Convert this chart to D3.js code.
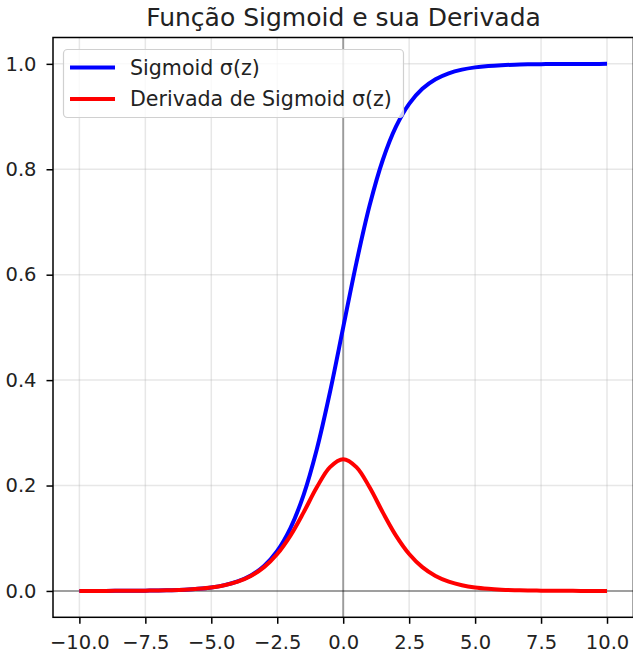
<!DOCTYPE html>
<html>
<head>
<meta charset="utf-8">
<script src="https://cdn.jsdelivr.net/npm/d3@7"></script>
<style>
  body { margin: 0; background: #fff; }
  svg { display: block; font-family: "DejaVu Sans", sans-serif; }
</style>
</head>
<body>
<svg id="chart" width="633" height="657"></svg>
<script>
// Data
const zValues = [-10, -9.5, -9, -8.5, -8, -7.5, -7, -6.5, -6, -5.5, -5, -4.5, -4, -3.5, -3, -2.5, -2, -1.5, -1, -0.5,
  0, 0.5, 1, 1.5, 2, 2.5, 3, 3.5, 4, 4.5, 5, 5.5, 6, 6.5, 7, 7.5, 8, 8.5, 9, 9.5, 10];
const sigmoidValues = [0.0000, 0.0001, 0.0001, 0.0002, 0.0003, 0.0006, 0.0009, 0.0015, 0.0025, 0.0041, 0.0067, 0.0110,
  0.0180, 0.0293, 0.0474, 0.0759, 0.1192, 0.1824, 0.2689, 0.3775, 0.5000, 0.6225, 0.7311, 0.8176, 0.8808, 0.9241,
  0.9526, 0.9707, 0.9820, 0.9890, 0.9933, 0.9959, 0.9975, 0.9985, 0.9991, 0.9994, 0.9997, 0.9998, 0.9999, 0.9999, 1.0000];
const derivativeValues = [0.0000, 0.0001, 0.0001, 0.0002, 0.0003, 0.0006, 0.0009, 0.0015, 0.0025, 0.0041, 0.0066, 0.0109,
  0.0177, 0.0285, 0.0452, 0.0701, 0.1050, 0.1491, 0.1966, 0.2350, 0.2500, 0.2350, 0.1966, 0.1491, 0.1050, 0.0701,
  0.0452, 0.0285, 0.0177, 0.0109, 0.0066, 0.0041, 0.0025, 0.0015, 0.0009, 0.0006, 0.0003, 0.0002, 0.0001, 0.0001, 0.0000];
const xTicks = [-10, -7.5, -5, -2.5, 0, 2.5, 5, 7.5, 10];
const yTicks = [0, 0.2, 0.4, 0.6, 0.8, 1.0];
const seriesNames = ["Sigmoid σ(z)", "Derivada de Sigmoid σ(z)"];
const seriesColors = ["#0000ff", "#ff0000"];
const titleText = "Função Sigmoid e sua Derivada";

const svg = d3.select("#chart");
const L = 53, R = 633.4, T = 37.5, B = 617.3;
const x = d3.scaleLinear().domain([-11, 11]).range([L, R]);
const y = d3.scaleLinear().domain([-0.05, 1.05]).range([B, T]);
const fmt = d => d3.format(".1f")(d).replace("-", "\u2212");

// grid
const g = svg.append("g");
g.selectAll(".gx").data(xTicks).join("line")
  .attr("x1", d => x(d)).attr("x2", d => x(d)).attr("y1", T).attr("y2", B)
  .attr("stroke", "#b0b0b0").attr("stroke-opacity", 0.3).attr("stroke-width", 1.5);
g.selectAll(".gy").data(yTicks).join("line")
  .attr("x1", L).attr("x2", R).attr("y1", d => y(d)).attr("y2", d => y(d))
  .attr("stroke", "#b0b0b0").attr("stroke-opacity", 0.3).attr("stroke-width", 1.5);

// zero lines
svg.append("line").attr("x1", L).attr("x2", R).attr("y1", y(0)).attr("y2", y(0))
  .attr("stroke", "#000").attr("stroke-opacity", 0.33).attr("stroke-width", 2);
svg.append("line").attr("x1", x(0)).attr("x2", x(0)).attr("y1", T).attr("y2", B)
  .attr("stroke", "#000").attr("stroke-opacity", 0.33).attr("stroke-width", 2);

// lines
const series = [sigmoidValues, derivativeValues];
const line = d3.line().x((d, i) => x(zValues[i])).y(d => y(d)).curve(d3.curveCatmullRom.alpha(0.5));
series.forEach((vals, k) => {
  svg.append("path").datum(vals).attr("d", line)
    .attr("fill", "none").attr("stroke", seriesColors[k]).attr("stroke-width", 4)
    .attr("stroke-linejoin", "round").attr("stroke-linecap", "butt");
});

// axes
const xAxis = d3.axisBottom(x).tickValues(xTicks).tickFormat(fmt).tickSize(6.5).tickPadding(11.5);
const yAxis = d3.axisLeft(y).tickValues(yTicks).tickFormat(fmt).tickSize(6.5).tickPadding(10);
const gx = svg.append("g").attr("transform", `translate(0,${B})`).call(xAxis);
const gy = svg.append("g").attr("transform", `translate(${L},0)`).call(yAxis);
[gx, gy].forEach(a => {
  a.select(".domain").remove();
  a.selectAll(".tick line").attr("stroke", "#000").attr("stroke-width", 1.5);
  a.selectAll(".tick text").attr("fill", "#222").style("font-size", "19.5px").style("font-family", "DejaVu Sans");
});

// spines
svg.append("rect").attr("x", L).attr("y", T).attr("width", R - L).attr("height", B - T)
  .attr("fill", "none").attr("stroke", "#000").attr("stroke-width", 1.5);

// title
svg.append("text").attr("x", 343.5).attr("y", 26).attr("text-anchor", "middle")
  .style("font-size", "25px").attr("fill", "#222").text(titleText);

// legend
const lg = svg.append("g");
lg.append("rect").attr("x", 63.5).attr("y", 49.5).attr("width", 340).attr("height", 68).attr("rx", 4)
  .attr("fill", "#fff").attr("fill-opacity", 0.8).attr("stroke", "#d0d0d0").attr("stroke-width", 1.2);
seriesNames.forEach((name, k) => {
  const yy = 67.5 + k * 31.5;
  lg.append("line").attr("x1", 70).attr("x2", 115).attr("y1", yy).attr("y2", yy)
    .attr("stroke", seriesColors[k]).attr("stroke-width", 4);
  lg.append("text").attr("x", 130).attr("y", yy + 7).style("font-size", "20.6px").attr("fill", "#222").text(name);
});
</script>
</body>
</html>
